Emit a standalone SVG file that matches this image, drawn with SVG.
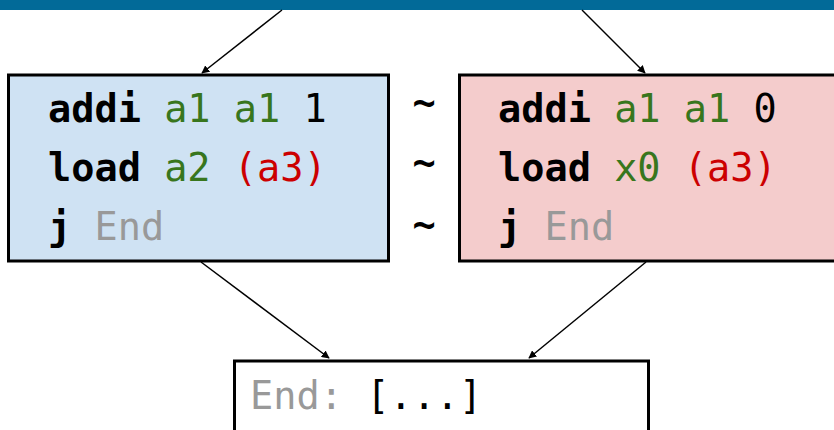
<svg xmlns="http://www.w3.org/2000/svg" width="834" height="430" viewBox="0 0 834 430">
  <style>
    .box { stroke: #000; stroke-width: 3; }
    .code { font-family: "DejaVu Sans Mono", "Liberation Mono", monospace; font-size: 38.6px; }
    .kw { font-weight: bold; fill: #000; }
    .reg { fill: #38761d; }
    .mem { fill: #cc0000; }
    .lbl { fill: #999999; }
    .num { fill: #000; }
    .edge { stroke: #000; stroke-width: 1.5; fill: none; marker-end: url(#arrow); }
  </style>
  <defs>
    <marker id="arrow" viewBox="0 0 10 10" refX="9" refY="5" markerWidth="8" markerHeight="8" markerUnits="userSpaceOnUse" orient="auto">
      <path d="M0,0 L10,5 L0,10 z" fill="#000"/>
    </marker>
  </defs>

  <rect x="0" y="0" width="834" height="10" fill="#026a98"/>

  <g id="connectors">
    <line class="edge" x1="282" y1="10" x2="202" y2="73"/>
    <line class="edge" x1="582" y1="10" x2="645" y2="73"/>
    <line class="edge" x1="201" y1="262" x2="329" y2="358"/>
    <line class="edge" x1="646" y1="262" x2="529" y2="358"/>
  </g>

  <g id="block-left">
    <rect class="box" x="8.5" y="75" width="380" height="186" fill="#cfe2f3"/>
    <text class="code" x="48" y="122"><tspan class="kw">addi</tspan> <tspan class="reg">a1</tspan> <tspan class="reg">a1</tspan> <tspan class="num">1</tspan></text>
    <text class="code" x="48" y="181"><tspan class="kw">load</tspan> <tspan class="reg">a2</tspan> <tspan class="mem">(a3)</tspan></text>
    <text class="code" x="48" y="240"><tspan class="kw">j</tspan> <tspan class="lbl">End</tspan></text>
  </g>

  <g id="equivalence">
    <text class="code" x="424" y="116" text-anchor="middle" font-weight="bold">~</text>
    <text class="code" x="424" y="176" text-anchor="middle" font-weight="bold">~</text>
    <text class="code" x="424" y="238" text-anchor="middle" font-weight="bold">~</text>
  </g>

  <g id="block-right">
    <rect class="box" x="459.5" y="75" width="390" height="186" fill="#f4cccc"/>
    <text class="code" x="498" y="122"><tspan class="kw">addi</tspan> <tspan class="reg">a1</tspan> <tspan class="reg">a1</tspan> <tspan class="num">0</tspan></text>
    <text class="code" x="498" y="181"><tspan class="kw">load</tspan> <tspan class="reg">x0</tspan> <tspan class="mem">(a3)</tspan></text>
    <text class="code" x="498" y="240"><tspan class="kw">j</tspan> <tspan class="lbl">End</tspan></text>
  </g>

  <g id="block-end">
    <rect class="box" x="234.5" y="361" width="414" height="90" fill="#ffffff"/>
    <text class="code" x="250" y="409"><tspan class="lbl">End:</tspan> <tspan class="num">[...]</tspan></text>
  </g>
</svg>
